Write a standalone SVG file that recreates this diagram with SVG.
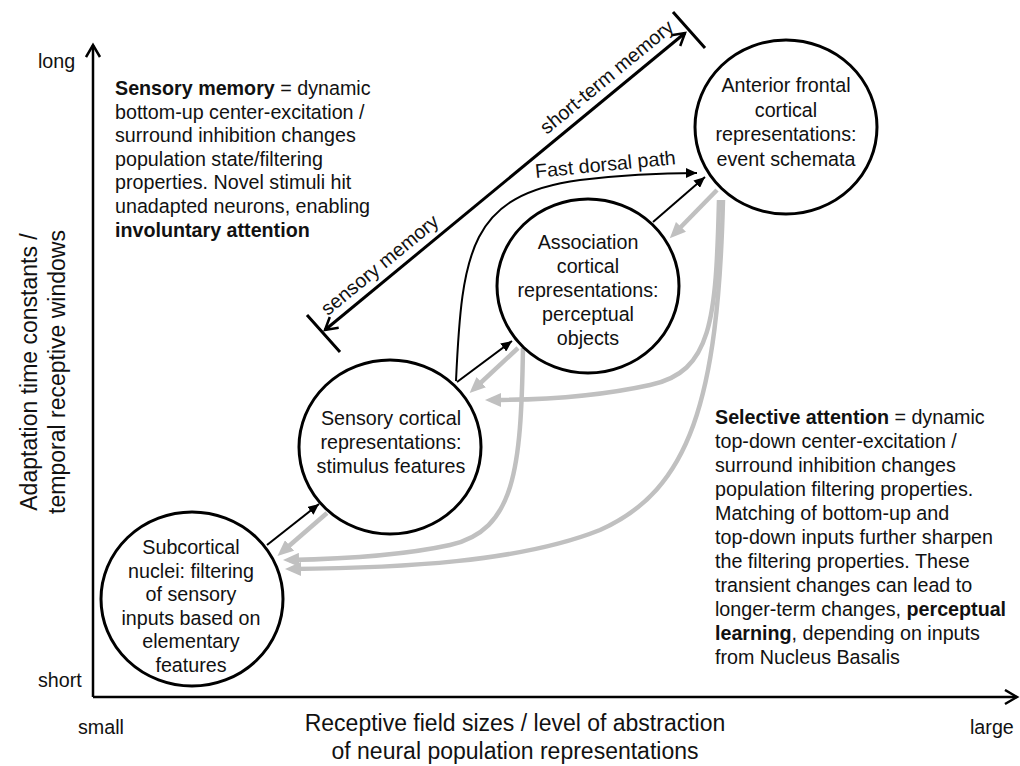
<svg xmlns="http://www.w3.org/2000/svg" width="1020" height="766" viewBox="0 0 1020 766">
<style>
text{font-family:"Liberation Sans",Arial,sans-serif;fill:#111;}
.t{font-size:19.7px;}
.c{font-size:19.7px;text-anchor:middle;}
.ax{font-size:23px;text-anchor:middle;}
.b{font-weight:bold;}
.node{fill:#fff;stroke:#000;stroke-width:3;}
.gray{fill:none;stroke:#c0c0c0;stroke-width:4.5;marker-end:url(#gh);}
.blk{fill:none;stroke:#000;stroke-width:2;marker-end:url(#bh);}
</style>
<defs>
<marker id="gh" markerUnits="userSpaceOnUse" markerWidth="17" markerHeight="14" refX="10" refY="7" orient="auto"><path d="M0,0 L16,7 L0,14 Z" fill="#c0c0c0"/></marker>
<marker id="bh" markerUnits="userSpaceOnUse" markerWidth="12" markerHeight="10" refX="11" refY="5" orient="auto"><path d="M0,0 L11,5 L0,10 Z" fill="#000"/></marker>
<marker id="ch" markerUnits="userSpaceOnUse" markerWidth="16" markerHeight="18" refX="13" refY="8" orient="auto-start-reverse"><path d="M1,1 L13,8 L1,15" fill="none" stroke="#000" stroke-width="2.5"/></marker>
</defs>

<g id="axes" fill="none" stroke="#000" stroke-width="2.5">
<path d="M93,697 L93,45" marker-end="url(#ch)"/>
<path d="M93,697 L1017,697" marker-end="url(#ch)"/>
</g>

<g id="axis-labels">
<text class="t" x="38" y="68">long</text>
<text class="t" x="38" y="687">short</text>
<text class="t" x="78" y="734">small</text>
<text class="t" x="970" y="734">large</text>
<text class="ax" x="515" y="731">Receptive field sizes / level of abstraction</text>
<text class="ax" x="515" y="759">of neural population representations</text>
<text class="ax" transform="translate(37,372) rotate(-90)">Adaptation time constants /</text>
<text class="ax" transform="translate(65,372) rotate(-90)">temporal receptive windows</text>
</g>

<g id="connectors">
<path class="gray" d="M717,190 L674,234"/>
<path class="gray" d="M518,348 L474,389"/>
<path class="gray" d="M327,513 L282,552"/>
<path class="gray" d="M719,200 C716,320 712,372 650,385 C600,396 540,400 491,400"/>
<path class="gray" d="M523,348 C521,470 515,530 450,545 C400,556 340,559 289,560"/>
<path class="gray" d="M723,200 C718,400 690,490 600,530 C520,562 400,568 291,569"/>
<path class="blk" d="M267,545 L319,504"/>
<path class="blk" d="M457,382 L512,341"/>
<path class="blk" d="M653,222 L705,177"/>
<path class="blk" d="M456,381 C462,250 470,195 580,180 C630,174 670,173 697,173"/>
<path d="M325,330 L685,33" fill="none" stroke="#000" stroke-width="3" marker-start="url(#ch)" marker-end="url(#ch)"/>
<path d="M307,315 L340,352 M673,12 L705,48" fill="none" stroke="#000" stroke-width="3"/>
<text class="c" transform="translate(384,270) rotate(-39.5)">sensory memory</text>
<text class="c" transform="translate(611,82) rotate(-39.5)">short-term memory</text>
<text class="c" transform="translate(606,171) rotate(-5.6)">Fast dorsal path</text>
</g>

<g id="node-subcortical">
<ellipse class="node" cx="192" cy="599" rx="91" ry="87"/>
<text class="c" x="191" y="554">Subcortical</text>
<text class="c" x="191" y="577.5">nuclei: filtering</text>
<text class="c" x="191" y="601">of sensory</text>
<text class="c" x="191" y="624.5">inputs based on</text>
<text class="c" x="191" y="648">elementary</text>
<text class="c" x="191" y="671.5">features</text>
</g>

<g id="node-sensory">
<ellipse class="node" cx="390" cy="447" rx="91" ry="87"/>
<text class="c" x="391" y="425">Sensory cortical</text>
<text class="c" x="391" y="449">representations:</text>
<text class="c" x="391" y="473">stimulus features</text>
</g>

<g id="node-association">
<ellipse class="node" cx="588" cy="286" rx="91" ry="87"/>
<text class="c" x="588" y="249">Association</text>
<text class="c" x="588" y="273">cortical</text>
<text class="c" x="588" y="297">representations:</text>
<text class="c" x="588" y="321">perceptual</text>
<text class="c" x="588" y="345">objects</text>
</g>

<g id="node-anterior">
<ellipse class="node" cx="786" cy="127" rx="91" ry="87"/>
<text class="c" x="786" y="92">Anterior frontal</text>
<text class="c" x="786" y="116.5">cortical</text>
<text class="c" x="786" y="141">representations:</text>
<text class="c" x="786" y="165.5">event schemata</text>
</g>

<g id="note-sensory-memory">
<text class="t" x="115" y="95"><tspan class="b">Sensory memory</tspan> = dynamic</text>
<text class="t" x="115" y="118.6">bottom-up center-excitation /</text>
<text class="t" x="115" y="142.2">surround inhibition changes</text>
<text class="t" x="115" y="165.8">population state/filtering</text>
<text class="t" x="115" y="189.4">properties. Novel stimuli hit</text>
<text class="t" x="115" y="213">unadapted neurons, enabling</text>
<text class="t b" x="115" y="236.6">involuntary attention</text>
</g>

<g id="note-selective-attention">
<text class="t" x="715" y="424"><tspan class="b">Selective attention</tspan> = dynamic</text>
<text class="t" x="715" y="448">top-down center-excitation /</text>
<text class="t" x="715" y="472">surround inhibition changes</text>
<text class="t" x="715" y="496">population filtering properties.</text>
<text class="t" x="715" y="520">Matching of bottom-up and</text>
<text class="t" x="715" y="544">top-down inputs further sharpen</text>
<text class="t" x="715" y="568">the filtering properties. These</text>
<text class="t" x="715" y="592">transient changes can lead to</text>
<text class="t" x="715" y="616">longer-term changes, <tspan class="b">perceptual</tspan></text>
<text class="t" x="715" y="640"><tspan class="b">learning</tspan>, depending on inputs</text>
<text class="t" x="715" y="664">from Nucleus Basalis</text>
</g>
</svg>
